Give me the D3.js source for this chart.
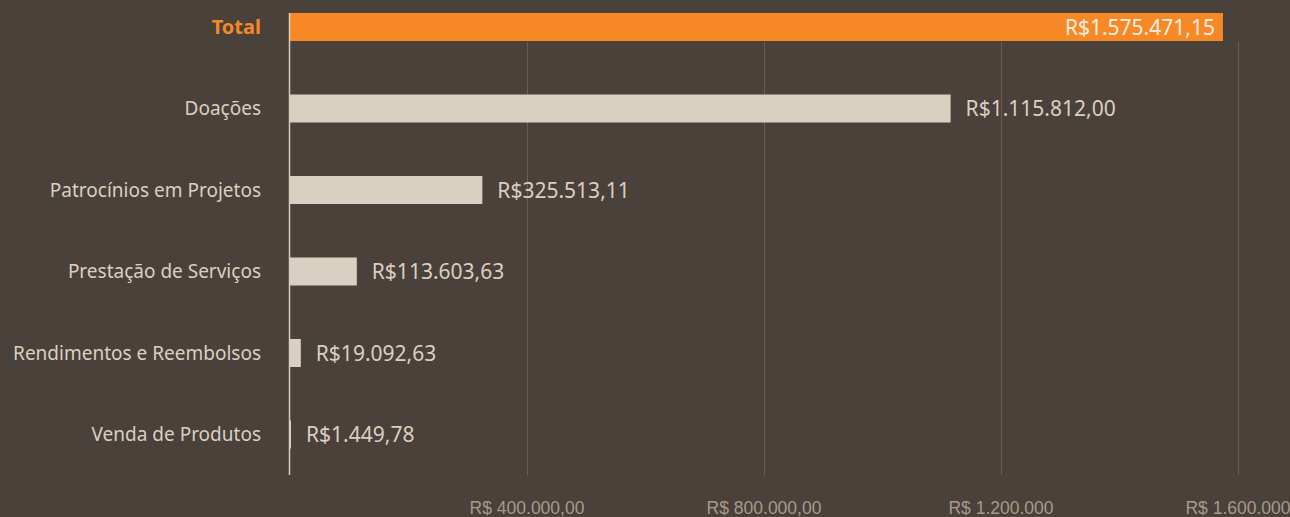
<!DOCTYPE html>
<html>
<head>
<meta charset="utf-8">
<script src="https://cdn.jsdelivr.net/npm/d3@7"></script>
<style>
  html, body { margin: 0; padding: 0; background: #4a413b; overflow: hidden; }
  svg { display: block; font-family: "Noto Sans", sans-serif; }
</style>
</head>
<body>
<svg></svg>
<script>
let categories = ["Total", "Doações", "Patrocínios em Projetos", "Prestação de Serviços", "Rendimentos e Reembolsos", "Venda de Produtos"];
let values = [1575471.15, 1115812.00, 325513.11, 113603.63, 19092.63, 1449.78];
let valueLabels = ["R$1.575.471,15", "R$1.115.812,00", "R$325.513,11", "R$113.603,63", "R$19.092,63", "R$1.449,78"];
let tickValues = [400000, 800000, 1200000, 1600000];
let tickLabels = ["R$ 400.000,00", "R$ 800.000,00", "R$ 1.200.000", "R$ 1.600.000"];

let width = 1290;
let height = 517;
let x0 = 289.5;
let barH = 28;

let svg = d3.select("svg").attr("width", width).attr("height", height);

let xScale = d3.scaleLinear().domain([0, 1600000]).range([x0, x0 + 948]);
let yScale = d3.scalePoint().domain(categories).range([27, 434.5]);

// gridlines
svg.append("g")
  .selectAll("line")
  .data(tickValues)
  .enter()
  .append("line")
  .attr("x1", d => Math.round(xScale(d)) + 0.5)
  .attr("x2", d => Math.round(xScale(d)) + 0.5)
  .attr("y1", 42)
  .attr("y2", 475)
  .attr("stroke", "#6e5d4d")
  .attr("stroke-width", 1);

// x axis labels
let xAxis = d3.axisBottom(xScale)
  .tickValues(tickValues)
  .tickFormat((d, i) => tickLabels[i])
  .tickSize(0)
  .tickPadding(0);

let gx = svg.append("g")
  .attr("transform", "translate(0,502)")
  .call(xAxis);
gx.select(".domain").remove();
gx.selectAll("text")
  .attr("fill", "#a89a89")
  .style("font-size", "17.5px");

// bars
svg.append("g")
  .selectAll("rect")
  .data(values)
  .enter()
  .append("rect")
  .attr("x", x0)
  .attr("y", (d, i) => yScale(categories[i]) - barH / 2)
  .attr("width", d => Math.max(xScale(d) - x0, 1.5))
  .attr("height", barH)
  .attr("fill", (d, i) => i === 0 ? "#f78826" : "#d9d0c2");

// vertical axis line
svg.append("line")
  .attr("x1", x0).attr("x2", x0)
  .attr("y1", 13).attr("y2", 475)
  .attr("stroke", "#d6cdc0")
  .attr("stroke-width", 1.5);

// category labels
svg.append("g")
  .selectAll("text")
  .data(categories)
  .enter()
  .append("text")
  .attr("x", 261)
  .attr("y", d => yScale(d))
  .attr("dy", "0.35em")
  .attr("text-anchor", "end")
  .attr("fill", (d, i) => i === 0 ? "#f78826" : "#d9d0c2")
  .style("font-size", (d, i) => i === 0 ? "20px" : "19px")
  .style("font-weight", (d, i) => i === 0 ? "bold" : "normal")
  .text(d => d);

// value labels
svg.append("g")
  .selectAll("text")
  .data(values)
  .enter()
  .append("text")
  .attr("x", (d, i) => i === 0 ? xScale(d) - 8 : Math.max(xScale(d), x0 + 1.5) + 15)
  .attr("y", (d, i) => yScale(categories[i]))
  .attr("dy", "0.36em")
  .attr("text-anchor", (d, i) => i === 0 ? "end" : "start")
  .attr("fill", (d, i) => i === 0 ? "#fbeee0" : "#d9d0c2")
  .style("font-size", "21px")
  .text((d, i) => valueLabels[i]);
</script>
</body>
</html>
